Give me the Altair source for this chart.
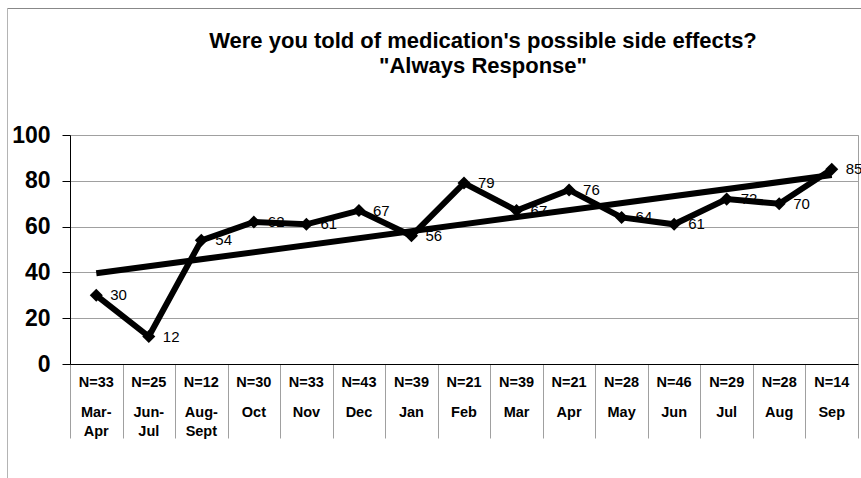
import altair as alt
import pandas as pd

# Survey periods, sample sizes and share of "Always" answers (%)
periods = ["Mar-\nApr", "Jun-\nJul", "Aug-\nSept", "Oct", "Nov", "Dec", "Jan",
           "Feb", "Mar", "Apr", "May", "Jun", "Jul", "Aug", "Sep"]
counts = [33, 25, 12, 30, 33, 43, 39, 21, 39, 21, 28, 46, 29, 28, 14]
always_pct = [30, 12, 54, 62, 61, 67, 56, 79, 67, 76, 64, 61, 72, 70, 85]
y_ticks = [0, 20, 40, 60, 80, 100]
title_lines = ["Were you told of medication's possible side effects?",
               '"Always Response"']

df = pd.DataFrame({
    "idx": list(range(len(periods))),
    "period": periods,
    "n_label": [f"N={n}" for n in counts],
    "pct": always_pct,
})
one_row = pd.DataFrame({"k": [0]})

FONT = "Liberation Sans"
GRID = "#a0a0a0"
W, H = 788, 229
n = len(periods)

x = alt.X(
    "idx:Q",
    scale=alt.Scale(domain=[-0.5, n - 0.5], nice=False, zero=False),
    axis=alt.Axis(values=[i - 0.5 for i in range(n + 1)], labels=False, title=None,
                  grid=False, tickSize=74, tickColor=GRID, tickWidth=1,
                  domainColor="black", domainWidth=1),
)
y = alt.Y(
    "pct:Q",
    scale=alt.Scale(domain=[0, 100], nice=False),
    axis=alt.Axis(values=y_ticks, title=None, grid=True, gridColor=GRID, gridWidth=1,
                  tickColor="black", tickSize=8, labelPadding=12, labelFont=FONT,
                  labelFontSize=23, labelFontWeight="bold", labelColor="black",
                  domainColor="black", domainWidth=1),
)

base = alt.Chart(df)

# outer frame (top and left edges)
frame_top = alt.Chart(one_row).mark_rule(color="#888888", strokeWidth=1).encode(
    x=alt.value(-63), x2=alt.value(W + 3), y=alt.value(-126.5))
frame_left = alt.Chart(one_row).mark_rule(color="#b4b4b4", strokeWidth=1).encode(
    x=alt.value(-62.5), y=alt.value(-127), y2=alt.value(H + 114))

title = alt.Chart(one_row).mark_text(
    text=title_lines, font=FONT, fontSize=22, fontWeight="bold", align="center",
    baseline="alphabetic", lineHeight=25, color="black",
).encode(x=alt.value(413), y=alt.value(-87))

value_labels = base.mark_text(
    align="left", baseline="middle", dx=14, font=FONT, fontSize=15, color="black"
).encode(x=x, y=y, text="pct:Q")

trend = base.transform_regression("idx", "pct").mark_line(
    color="black", strokeWidth=6).encode(x=x, y=y)

series = base.mark_line(color="black", strokeWidth=6).encode(x=x, y=y)

markers = base.mark_point(shape="diamond", filled=True, size=170, color="black",
                          opacity=1).encode(x=x, y=y)

n_row = base.mark_text(
    font=FONT, fontSize=14.5, fontWeight="bold", baseline="middle", color="black"
).encode(x=x, y=alt.value(248), text="n_label:N")

period_row = base.mark_text(
    font=FONT, fontSize=14.5, fontWeight="bold", baseline="alphabetic",
    lineBreak="\n", lineHeight=19, color="black"
).encode(x=x, y=alt.value(282), text="period:N")

chart = alt.layer(
    frame_top, frame_left, title, value_labels, trend, series, markers, n_row, period_row
).properties(
    width=W, height=H,
    padding={"left": 70, "top": 135, "right": 3, "bottom": 114},
    autosize=alt.AutoSizeParams(type="none"),
    background="white",
).configure_view(stroke=GRID, strokeWidth=1)

chart.save("out.html", embed_options={"renderer": "svg", "actions": False})
